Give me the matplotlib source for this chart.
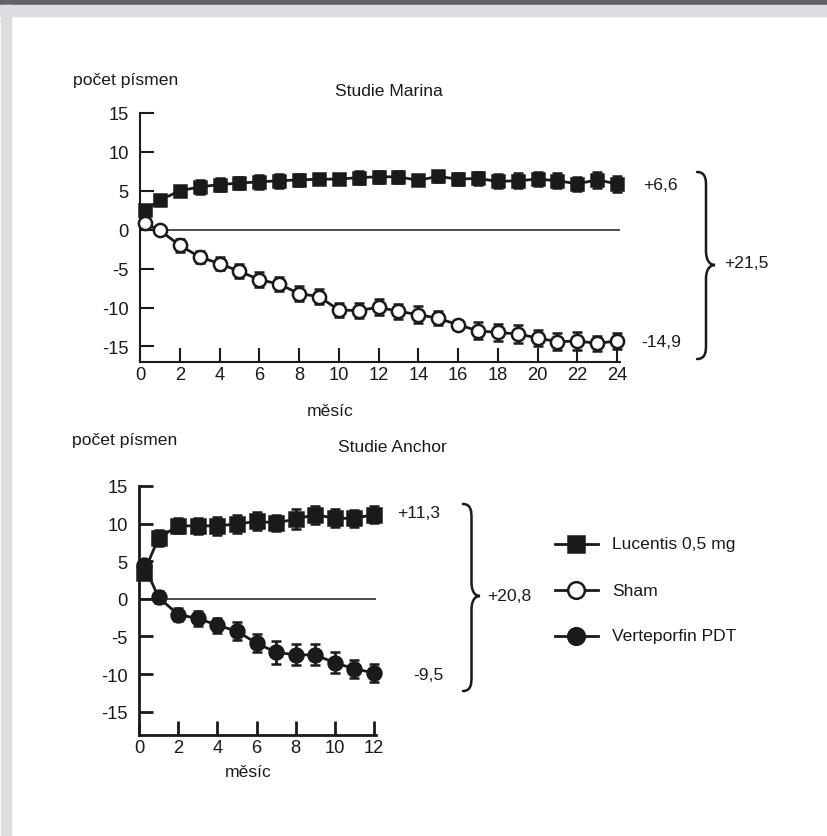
import matplotlib
matplotlib.use("Agg")
import matplotlib.pyplot as plt
from matplotlib import font_manager
from matplotlib.patches import PathPatch, Rectangle
from matplotlib.path import Path

# pick a narrow grotesque if it is there
names = {f.name for f in font_manager.fontManager.ttflist}
FONT = "Liberation Sans Narrow" if "Liberation Sans Narrow" in names else "Liberation Sans"
FS = 14 if FONT == "Liberation Sans Narrow" else 12.6
TICK_FS = FS + 0.6
plt.rcParams["font.family"] = [FONT, "DejaVu Sans"]
plt.rcParams["font.size"] = FS

# Marina study (24 months)
marina_months = [0.25] + list(range(1, 25))
marina_lucentis = [2.5, 3.8, 5.0, 5.5, 5.8, 6.0, 6.15, 6.3, 6.4, 6.5, 6.5, 6.7, 6.8,
                   6.8, 6.35, 6.85, 6.5, 6.6, 6.2, 6.3, 6.5, 6.3, 5.9, 6.4, 5.9]
marina_lucentis_err = [0.3, 0.3, 0.3, 0.9, 0.8, 0.8, 0.9, 0.9, 0.8, 0.6, 0.6, 0.8, 0.8,
                       0.8, 0.6, 0.7, 0.8, 0.8, 0.9, 1.0, 0.9, 1.0, 0.9, 1.0, 1.0]
marina_sham = [0.8, -0.1, -2.0, -3.5, -4.35, -5.35, -6.4, -7.0, -8.2, -8.6, -10.3, -10.4, -9.95,
               -10.5, -10.9, -11.4, -12.2, -13.0, -13.2, -13.4, -13.9, -14.4, -14.3, -14.6, -14.3]
marina_sham_err = [0.3, 0.3, 0.8, 0.8, 0.8, 0.9, 1.0, 0.9, 1.0, 1.0, 0.9, 1.0, 1.0,
                   1.0, 1.1, 0.9, 0.4, 1.1, 1.1, 1.1, 1.0, 1.1, 1.1, 1.0, 1.0]

# Anchor study (12 months)
anchor_months = [0.25] + list(range(1, 13))
anchor_lucentis = [3.5, 8.1, 9.7, 9.7, 9.7, 9.95, 10.3, 10.1, 10.6, 11.2, 10.7, 10.7, 11.2]
anchor_lucentis_err = [0.5, 1.1, 1.0, 1.1, 1.2, 1.2, 1.2, 1.1, 1.3, 1.2, 1.2, 1.1, 1.1]
anchor_pdt = [4.5, 0.2, -2.1, -2.6, -3.5, -4.3, -5.9, -7.1, -7.45, -7.45, -8.5, -9.3, -9.85]
anchor_pdt_err = [0.5, 0.8, 0.9, 1.0, 1.0, 1.2, 1.2, 1.5, 1.4, 1.4, 1.4, 1.2, 1.2]

y_ticks = [15, 10, 5, 0, -5, -10, -15]
marina_xticks = list(range(0, 25, 2))
anchor_xticks = list(range(0, 13, 2))

W, H = 828, 837
fig = plt.figure(figsize=(W / 100, H / 100), dpi=100)
fig.patch.set_facecolor("white")


def px(x, y):
    return x / W, 1 - y / H


def px_rect(left, top, right, bottom):
    return [left / W, 1 - bottom / H, (right - left) / W, (bottom - top) / H]


# page frame: dark top bar and light grey border
fig.patches.append(Rectangle((0, 1 - 5 / H), 1, 5 / H, transform=fig.transFigure,
                             color="#606164", zorder=0))
fig.patches.append(Rectangle((0, 1 - 17 / H), 1, 11 / H, transform=fig.transFigure,
                             color="#dcdde0", zorder=0))
fig.patches.append(Rectangle((1 / W, 0), 10 / W, 1 - 6 / H, transform=fig.transFigure,
                             color="#dcdde0", zorder=0))

BLACK = "#1a1a1a"


def style_axes(ax, xticks, xmax, ymin, lw):
    ax.set_xlim(0, xmax)
    ax.set_ylim(ymin, 15)
    ax.set_xticks(xticks)
    ax.set_yticks(y_ticks)
    ax.set_yticklabels([str(v) for v in y_ticks])
    for s in ("top", "right"):
        ax.spines[s].set_visible(False)
    for s in ("left", "bottom"):
        ax.spines[s].set_linewidth(lw)
        ax.spines[s].set_color(BLACK)
    ax.spines["left"].set_bounds(ymin, 15)
    ax.tick_params(direction="in", length=10, width=lw, color=BLACK, labelsize=TICK_FS,
                   labelcolor=BLACK)
    ax.tick_params(axis="y", pad=8)
    ax.tick_params(axis="x", pad=3)
    ax.axhline(0, color=BLACK, lw=1.1, zorder=1)
    ax.patch.set_alpha(0)


def series(ax, x, y, err, marker, face, ms):
    ax.errorbar(x, y, yerr=err, color=BLACK, lw=2, marker=marker, ms=ms,
                mfc=face, mec=BLACK, mew=1.8, ecolor=BLACK, elinewidth=2,
                capsize=3.5, capthick=2.5, zorder=3, clip_on=False)


def brace(x0, xtip, ytop, ymid, ybot):
    xs = (x0 + xtip) / 2
    r = 14
    verts = [
        (x0, ytop), (xs, ytop), (xs, ytop + r * 0.6), (xs, ytop + r),
        (xs, ymid - r),
        (xs, ymid - 3), (xtip - 4, ymid), (xtip, ymid),
        (xtip - 4, ymid), (xs, ymid + 3), (xs, ymid + r),
        (xs, ybot - r),
        (xs, ybot - r * 0.6), (xs, ybot), (x0, ybot),
    ]
    codes = [Path.MOVETO, Path.CURVE4, Path.CURVE4, Path.CURVE4,
             Path.LINETO,
             Path.CURVE4, Path.CURVE4, Path.CURVE4,
             Path.CURVE4, Path.CURVE4, Path.CURVE4,
             Path.LINETO,
             Path.CURVE4, Path.CURVE4, Path.CURVE4]
    path = Path([px(*v) for v in verts], codes)
    fig.patches.append(PathPatch(path, transform=fig.transFigure, fill=False,
                                 lw=1.8, edgecolor=BLACK, capstyle="round"))


# --- Studie Marina ---
ax1 = fig.add_axes(px_rect(140, 114, 620, 363))
style_axes(ax1, marina_xticks, 24.15, -17.0, 1.5)
series(ax1, marina_months, marina_lucentis, marina_lucentis_err, "s", BLACK, 8.5)
series(ax1, marina_months, marina_sham, marina_sham_err, "o", "white", 9.5)

fig.text(*px(73, 81), "počet písmen", ha="left", va="center", color=BLACK)
fig.text(*px(389, 92), "Studie Marina", ha="center", va="center", color=BLACK)
fig.text(*px(330, 411), "měsíc", ha="center", va="center", color=BLACK)
fig.text(*px(643, 186), "+6,6", ha="left", va="center", color=BLACK)
fig.text(*px(641, 343), "-14,9", ha="left", va="center", color=BLACK)
fig.text(*px(724, 264), "+21,5", ha="left", va="center", color=BLACK)
brace(697, 715, 173, 266, 360)

# --- Studie Anchor ---
ax2 = fig.add_axes(px_rect(139, 487, 376, 736))
style_axes(ax2, anchor_xticks, 12.1, -18.1, 2.0)
series(ax2, anchor_months, anchor_lucentis, anchor_lucentis_err, "s", BLACK, 10)
series(ax2, anchor_months, anchor_pdt, anchor_pdt_err, "o", BLACK, 10)

fig.text(*px(72, 440), "počet písmen", ha="left", va="center", color=BLACK)
fig.text(*px(392, 447), "Studie Anchor", ha="center", va="center", color=BLACK)
fig.text(*px(248, 773), "měsíc", ha="center", va="center", color=BLACK)
fig.text(*px(397, 513), "+11,3", ha="left", va="center", color=BLACK)
fig.text(*px(413, 676), "-9,5", ha="left", va="center", color=BLACK)
fig.text(*px(487, 597), "+20,8", ha="left", va="center", color=BLACK)
brace(463, 480, 505, 597, 692)

# legend drawn by hand to the right of the lower chart
legend_items = [("Lucentis 0,5 mg", "s", BLACK), ("Sham", "o", "white"),
                ("Verteporfin PDT", "o", BLACK)]
leg_ax = fig.add_axes(px_rect(550, 525, 800, 660))
leg_ax.set_xlim(0, 250)
leg_ax.set_ylim(135, 0)
leg_ax.axis("off")
for i, (label, mk, face) in enumerate(legend_items):
    yy = 20 + i * 46
    leg_ax.plot([5, 48], [yy, yy], color=BLACK, lw=2)
    leg_ax.plot([26], [yy], marker=mk, ms=12, mfc=face, mec=BLACK, mew=1.8,
                color=BLACK)
    leg_ax.text(62, yy, label, ha="left", va="center", color=BLACK)

fig.savefig("out.png", dpi=100)
